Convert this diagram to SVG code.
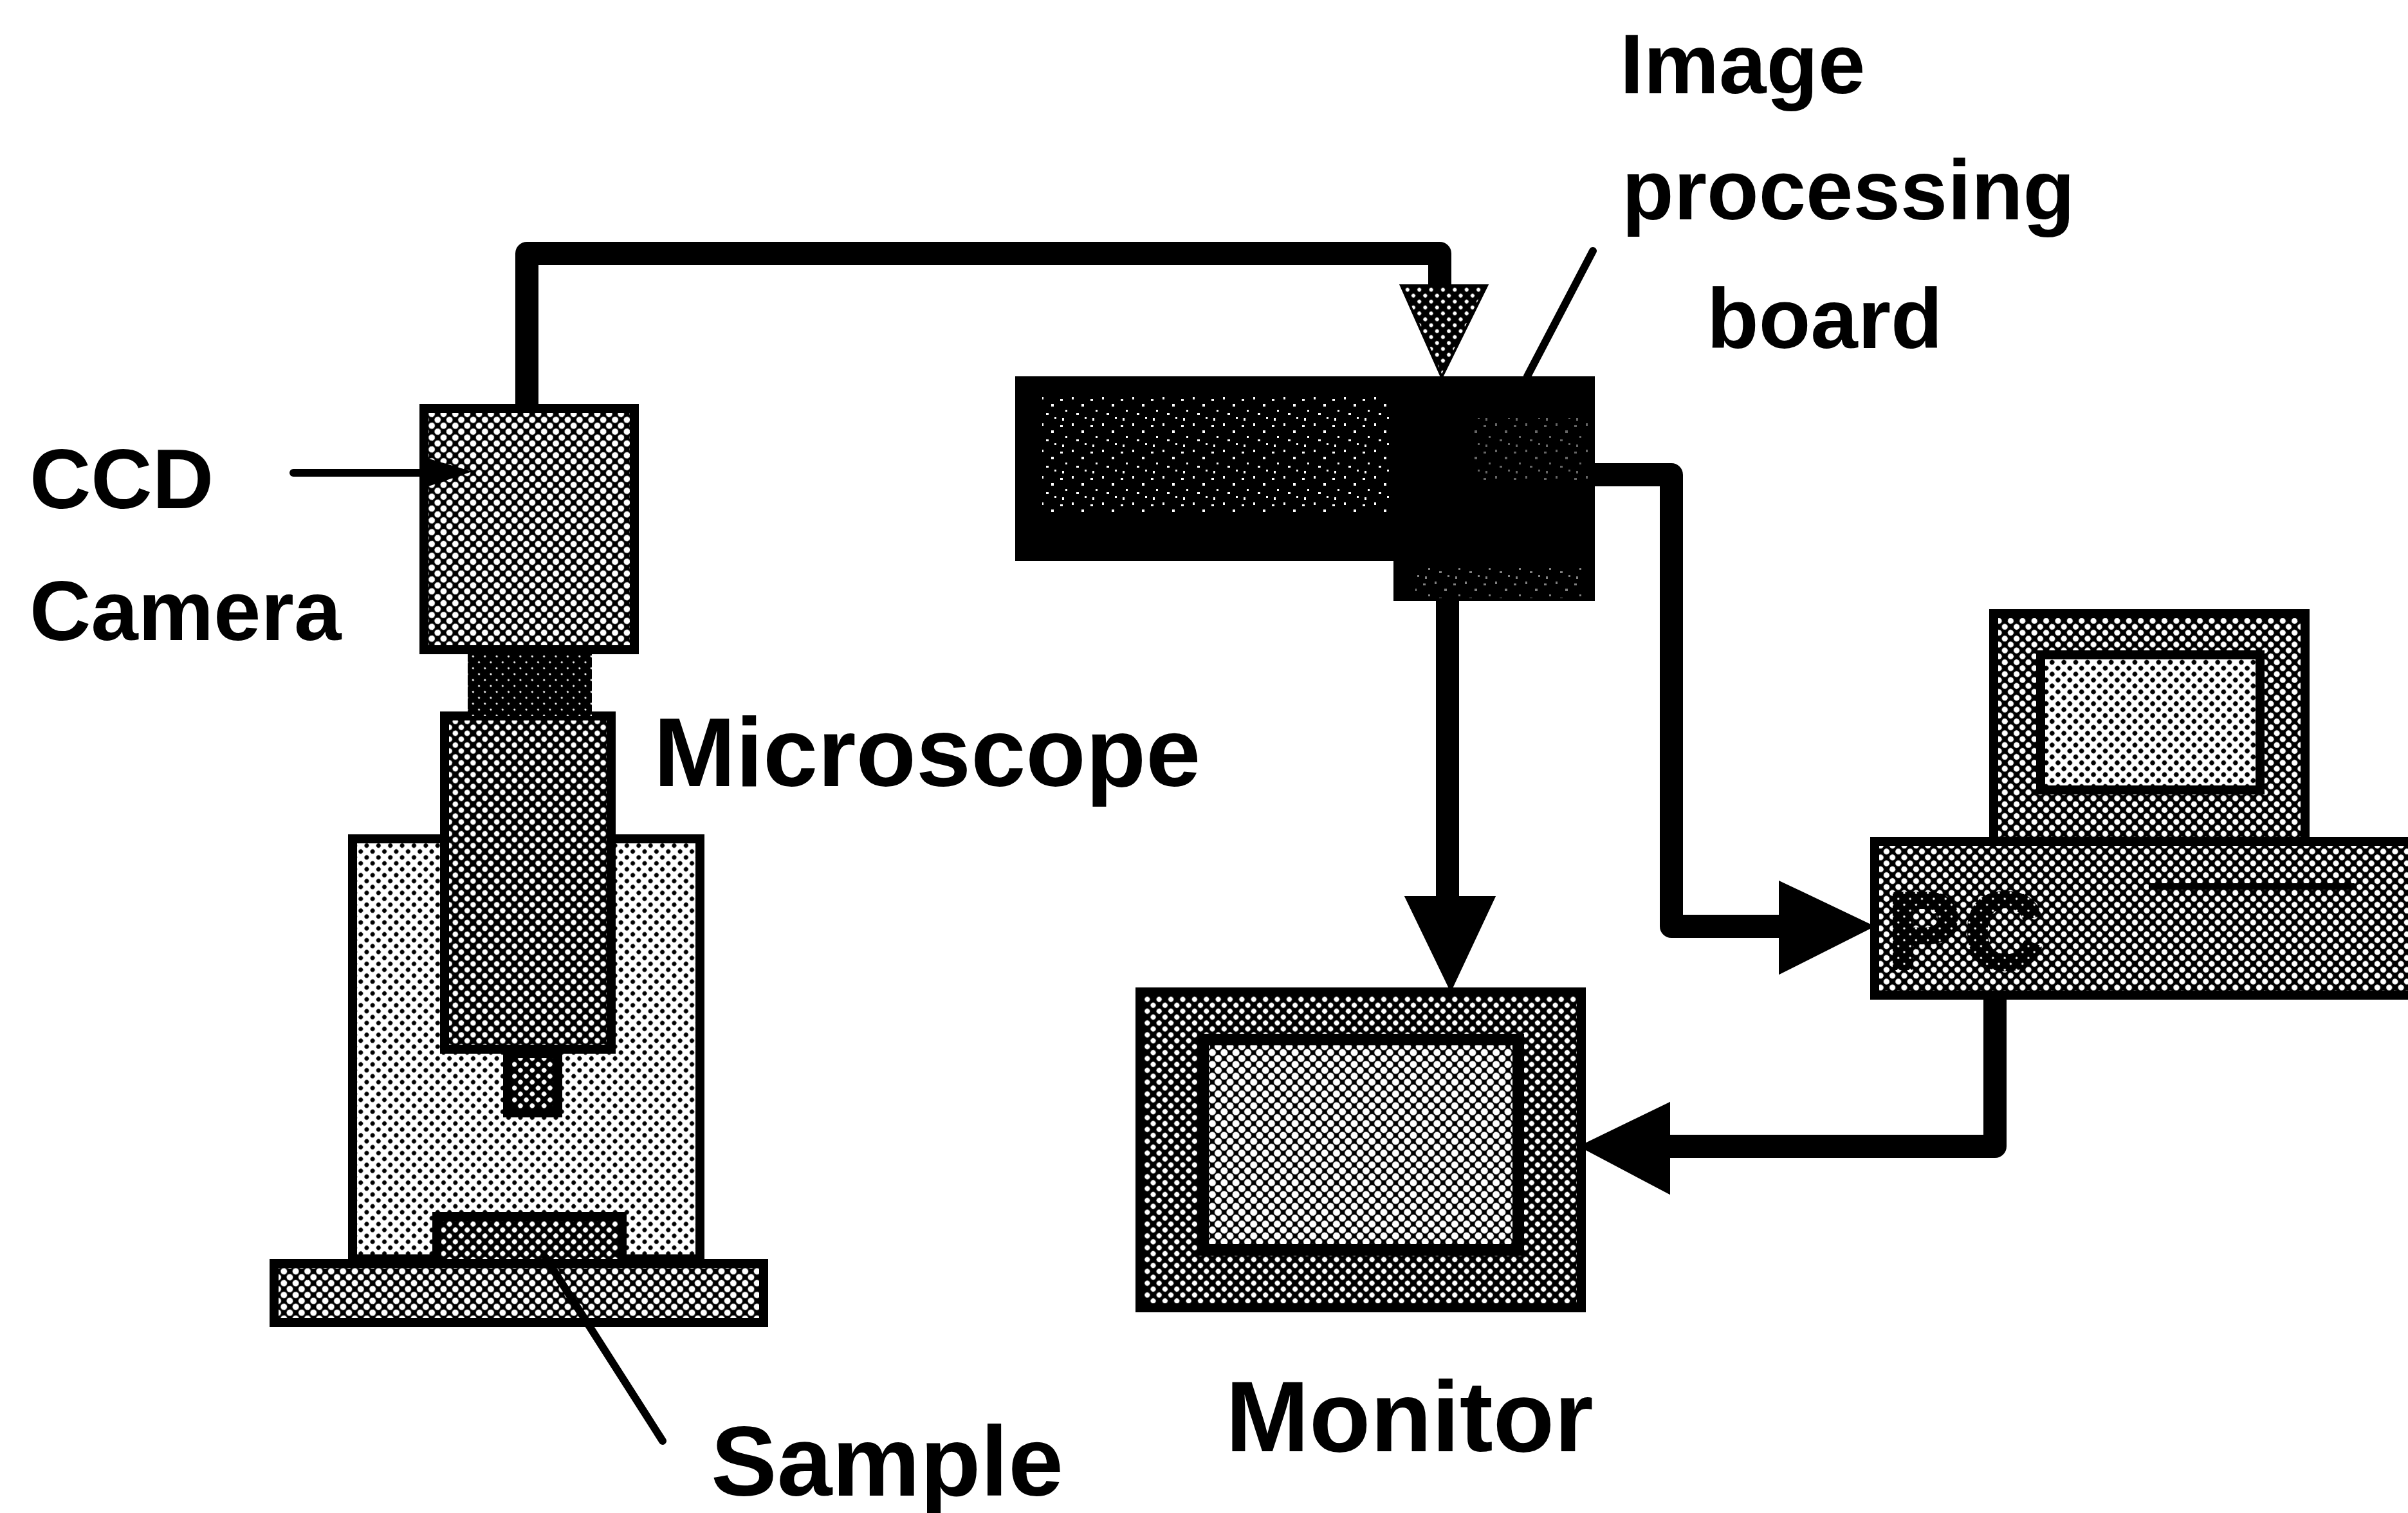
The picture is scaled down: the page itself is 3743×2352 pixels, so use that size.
<svg xmlns="http://www.w3.org/2000/svg" width="3743" height="2352" viewBox="0 0 3743 2352">
  <style>
    .lbl { font-family: "Liberation Sans", Arial, Helvetica, sans-serif; font-weight: bold; fill: #000; }
    .box { stroke: #000; stroke-width: 14; }
    .wire { fill: none; stroke: #000; stroke-width: 36; stroke-linejoin: round; }
    .leader { fill: none; stroke: #000; stroke-width: 12; stroke-linecap: round; }
    .head { stroke: #000; stroke-width: 4; stroke-linejoin: miter; }
  </style>
  <defs>
    <!-- halftone screens: black ground with white dots (dark) or white ground with black dots (light) -->
    <pattern id="ht-cam" width="13" height="13" patternUnits="userSpaceOnUse" patternTransform="rotate(45)">
      <rect width="13" height="13" fill="#000"/><circle cx="6.5" cy="6.5" r="4.9" fill="#fff"/>
    </pattern>
    <pattern id="ht-tube" width="13" height="13" patternUnits="userSpaceOnUse" patternTransform="rotate(45)">
      <rect width="13" height="13" fill="#000"/><circle cx="6.5" cy="6.5" r="4.3" fill="#fff"/>
    </pattern>
    <pattern id="ht-obj" width="13" height="13" patternUnits="userSpaceOnUse" patternTransform="rotate(45)">
      <rect width="13" height="13" fill="#000"/><circle cx="6.5" cy="6.5" r="3.7" fill="#fff"/>
    </pattern>
    <pattern id="ht-coupler" width="13" height="13" patternUnits="userSpaceOnUse" patternTransform="rotate(45)">
      <rect width="13" height="13" fill="#000"/><circle cx="6.5" cy="6.5" r="1.6" fill="#fff"/>
    </pattern>
    <pattern id="ht-body" width="13" height="13" patternUnits="userSpaceOnUse" patternTransform="rotate(45)">
      <rect width="13" height="13" fill="#fff"/><circle cx="6.5" cy="6.5" r="3.4" fill="#000"/>
    </pattern>
    <pattern id="ht-base" width="13" height="13" patternUnits="userSpaceOnUse" patternTransform="rotate(45)">
      <rect width="13" height="13" fill="#000"/><circle cx="6.5" cy="6.5" r="5.0" fill="#fff"/>
    </pattern>
    <pattern id="ht-sample" width="13" height="13" patternUnits="userSpaceOnUse" patternTransform="rotate(45)">
      <rect width="13" height="13" fill="#000"/><circle cx="6.5" cy="6.5" r="3.9" fill="#fff"/>
    </pattern>
    <pattern id="ht-frame" width="13" height="13" patternUnits="userSpaceOnUse" patternTransform="rotate(45)">
      <rect width="13" height="13" fill="#000"/><circle cx="6.5" cy="6.5" r="4.0" fill="#fff"/>
    </pattern>
    <pattern id="ht-screen" width="13" height="13" patternUnits="userSpaceOnUse" patternTransform="rotate(45)">
      <rect width="13" height="13" fill="#000"/><circle cx="6.5" cy="6.5" r="5.5" fill="#fff"/>
    </pattern>
    <pattern id="ht-pc" width="13" height="13" patternUnits="userSpaceOnUse" patternTransform="rotate(45)">
      <rect width="13" height="13" fill="#000"/><circle cx="6.5" cy="6.5" r="4.6" fill="#fff"/>
    </pattern>
    <pattern id="ht-pcscreen" width="13" height="13" patternUnits="userSpaceOnUse" patternTransform="rotate(45)">
      <rect width="13" height="13" fill="#fff"/><circle cx="6.5" cy="6.5" r="3.7" fill="#000"/>
    </pattern>
    <pattern id="ht-arrow" width="13" height="13" patternUnits="userSpaceOnUse" patternTransform="rotate(45)">
      <rect width="13" height="13" fill="#000"/><circle cx="6.5" cy="6.5" r="3.0" fill="#fff"/>
    </pattern>
    <pattern id="ht-text" width="13" height="13" patternUnits="userSpaceOnUse" patternTransform="rotate(45)">
      <rect width="13" height="13" fill="#000"/><circle cx="6.5" cy="6.5" r="1.7" fill="#fff"/>
    </pattern>
    <!-- sparse specks on the board -->
    <pattern id="speck" width="47" height="41" patternUnits="userSpaceOnUse">
      <rect width="47" height="41" fill="#000"/>
      <rect x="3" y="5" width="4" height="3" fill="#fff"/>
      <rect x="21" y="2" width="3" height="4" fill="#fff"/>
      <rect x="36" y="13" width="4" height="4" fill="#fff"/>
      <rect x="11" y="22" width="3" height="3" fill="#fff"/>
      <rect x="28" y="27" width="4" height="3" fill="#fff"/>
      <rect x="41" y="33" width="3" height="3" fill="#fff"/>
      <rect x="6" y="35" width="3" height="4" fill="#fff"/>
    </pattern>
  </defs>

  <rect width="3743" height="2352" fill="#fff"/>

  <!-- microscope stand -->
  <g id="microscope">
    <rect class="box" x="548" y="1304" width="540" height="653" fill="url(#ht-body)"/>
    <rect class="box" x="691" y="1113" width="259" height="518" fill="url(#ht-tube)"/>
    <rect class="box" x="789" y="1638" width="78" height="92" fill="url(#ht-obj)"/>
    <rect x="727" y="1017" width="193" height="96" fill="url(#ht-coupler)"/>
  </g>

  <!-- sample on the stage -->
  <g id="sample-stage">
    <rect class="box" x="679" y="1891" width="288" height="73" fill="url(#ht-sample)"/>
    <rect class="box" x="426" y="1964" width="761" height="92" fill="url(#ht-base)"/>
  </g>

  <!-- CCD camera -->
  <g id="ccd-camera">
    <rect class="box" x="659" y="635" width="327" height="375" fill="url(#ht-cam)"/>
  </g>

  <!-- image processing board -->
  <g id="board">
    <path d="M1578 585 H2479 V934 H2166 V872 H1578 Z" fill="#000"/>
    <rect x="1620" y="615" width="540" height="185" fill="url(#speck)"/>
    <rect x="2290" y="650" width="180" height="100" fill="url(#speck)" opacity="0.4"/>
    <rect x="2200" y="880" width="260" height="50" fill="url(#speck)" opacity="0.5"/>
  </g>

  <!-- video monitor -->
  <g id="monitor">
    <rect class="box" x="1772" y="1542" width="686" height="491" fill="url(#ht-frame)"/>
    <rect x="1870" y="1616" width="490" height="327" fill="url(#ht-screen)" stroke="#000" stroke-width="18"/>
  </g>

  <!-- personal computer -->
  <g id="pc">
    <rect class="box" x="3099" y="954" width="484" height="354" fill="url(#ht-pc)"/>
    <rect class="box" x="3172" y="1018" width="341" height="210" fill="url(#ht-pcscreen)"/>
    <rect class="box" x="2914" y="1308" width="850" height="239" fill="url(#ht-pc)"/>
    <line x1="3340" y1="1378" x2="3660" y2="1378" stroke="#000" stroke-width="10"/>
    <text class="lbl" x="2935" y="1504" font-size="165" letter-spacing="10" style="fill:url(#ht-text);stroke:url(#ht-text);stroke-width:8;stroke-linejoin:round">PC</text>
  </g>

  <!-- signal cables and pointer lines -->
  <g id="connectors">
    <polyline class="wire" points="819,632 819,394 2238,394 2238,450"/>
    <polygon class="head" points="2178,444 2311,444 2241,586" fill="url(#ht-arrow)"/>

    <line class="wire" x1="2250" y1="934" x2="2250" y2="1400"/>
    <polygon class="head" points="2186,1395 2322,1395 2255,1538" fill="#000"/>

    <polyline class="wire" points="2479,738 2598,738 2598,1440 2772,1440"/>
    <polygon class="head" points="2767,1372 2910,1440 2767,1512" fill="#000"/>

    <polyline class="wire" points="3101,1550 3101,1782 2590,1782"/>
    <polygon class="head" points="2594,1716 2458,1782 2594,1854" fill="#000"/>

    <line class="leader" x1="456" y1="735" x2="670" y2="735"/>
    <polygon points="660,711 734,733 660,758" fill="#000"/>

    <line class="leader" x1="2476" y1="390" x2="2374" y2="585"/>
    <line class="leader" x1="848" y1="1955" x2="1030" y2="2240"/>
  </g>

  <!-- labels -->
  <g id="labels">
    <text class="lbl" x="46" y="790" font-size="132">CCD</text>
    <text class="lbl" x="46" y="995" font-size="132">Camera</text>
    <text class="lbl" x="1016" y="1222" font-size="153">Microscope</text>
    <text class="lbl" x="2518" y="145" font-size="132">Image</text>
    <text class="lbl" x="2521" y="341" font-size="132">processing</text>
    <text class="lbl" x="2653" y="541" font-size="132">board</text>
    <text class="lbl" x="1905" y="2256" font-size="156">Monitor</text>
    <text class="lbl" x="1105" y="2325" font-size="154">Sample</text>
  </g>
</svg>
